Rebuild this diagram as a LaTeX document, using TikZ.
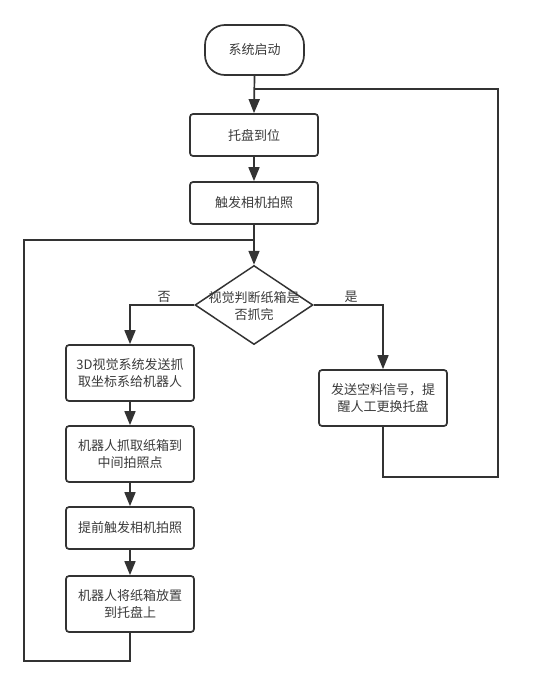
\documentclass[tikz,border=0pt]{standalone}
\usepackage{fontspec}
\newfontfamily\cjk{Noto Sans CJK SC}
\usetikzlibrary{shapes.geometric,arrows.meta}
\definecolor{ln}{HTML}{333333}
\definecolor{tx}{HTML}{3A3A3A}
\begin{document}
\begin{tikzpicture}[x=1pt,y=-1pt,
  every node/.style={font=\cjk\fontsize{13}{16.5}\selectfont, text=tx},
  term/.style={draw=ln, line width=1.7pt, rounded corners=20pt, minimum width=99pt, minimum height=50pt, inner sep=0pt},
  procbox/.style={draw=ln, line width=1.7pt, rounded corners=3pt, minimum width=128pt, inner sep=0pt, align=center},
  dia/.style={draw=ln, line width=1.5pt, diamond, minimum width=118pt, minimum height=79pt, inner sep=0pt},
  conn/.style={draw=ln, line width=1.7pt},
  arr/.style={conn, -{Triangle[length=14pt,width=11pt]}}]
\useasboundingbox (0,0) rectangle (533,686);
\node[term] (start) at (254.5,50) {系统启动};
\node[procbox, minimum height=42pt] (b1) at (254,135) {托盘到位};
\node[procbox, minimum height=42pt] (b2) at (254,203) {触发相机拍照};
\node[dia] (d) at (254,305) {};
\node[align=center] (dt) at (254,306) {视觉判断纸箱是\\否抓完};
\node[procbox, minimum height=56pt] (b3) at (130,373) {3D视觉系统发送抓\\取坐标系给机器人};
\node[procbox, minimum height=56pt] (b4) at (130,454) {机器人抓取纸箱到\\中间拍照点};
\node[procbox, minimum height=42pt] (b5) at (130,528) {提前触发相机拍照};
\node[procbox, minimum height=56pt] (b6) at (130,604) {机器人将纸箱放置\\到托盘上};
\node[procbox, minimum height=56pt] (rb) at (383,398) {发送空料信号，提\\醒人工更换托盘};
\node (no) at (164,297) {否};
\node (yes) at (351,297) {是};
\coordinate (j1) at (254,89);
\coordinate (j2) at (254,240);
\coordinate (lb) at (24,661);
\coordinate (rc) at (498,477);
\draw[arr] (start.south) -- (b1.north);
\draw[arr] (b1.south) -- (b2.north);
\draw[arr] (b2.south) -- (d.north);
\draw[arr] (d.west) -| (b3.north);
\draw[arr] (d.east) -| (rb.north);
\draw[arr] (b3.south) -- (b4.north);
\draw[arr] (b4.south) -- (b5.north);
\draw[arr] (b5.south) -- (b6.north);
\draw[conn] (b6.south) |- (lb) |- (j2);
\draw[conn] (rb.south) |- (rc) |- (j1);
\end{tikzpicture}
\end{document}
